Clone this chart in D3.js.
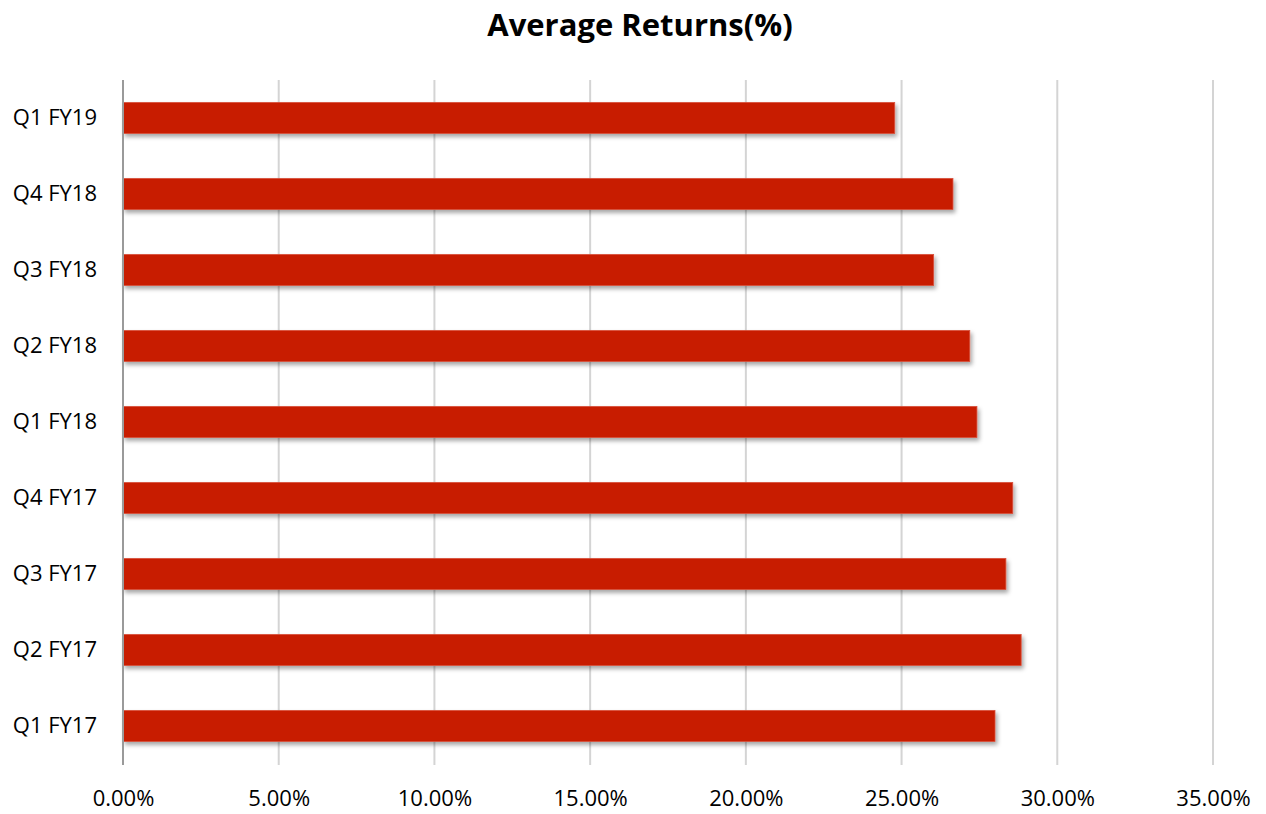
<!DOCTYPE html>
<html>
<head>
<meta charset="utf-8">
<script src="https://cdn.jsdelivr.net/npm/d3@7"></script>
<style>
  html, body { margin: 0; padding: 0; background: #fff; }
  svg { display: block; }
  text { font-family: "Open Sans", "Noto Sans", sans-serif; fill: #000; }
</style>
</head>
<body>
<svg id="chart" width="1266" height="814"></svg>
<script>
// Quarterly average returns, in percent
const categories = ["Q1 FY19", "Q4 FY18", "Q3 FY18", "Q2 FY18", "Q1 FY18", "Q4 FY17", "Q3 FY17", "Q2 FY17", "Q1 FY17"];
const returnsPct = [24.78, 26.65, 26.03, 27.19, 27.42, 28.57, 28.35, 28.84, 28.00];
const xTicks = [0, 5, 10, 15, 20, 25, 30, 35];
const chartTitle = "Average Returns(%)";

const svg = d3.select("#chart");
const W = 1266, H = 814;
const m = { top: 80, right: 53, bottom: 50, left: 123 };

const x = d3.scaleLinear().domain([0, 35]).range([m.left, W - m.right]);
const y = d3.scaleBand().domain(categories).range([m.top, H - m.bottom])
  .paddingInner(0.59).paddingOuter(0.295);

// soft drop shadow under each bar
const defs = svg.append("defs");
const f = defs.append("filter").attr("id", "shadow")
  .attr("x", "-5%").attr("y", "-30%").attr("width", "115%").attr("height", "180%");
f.append("feDropShadow").attr("dx", 2).attr("dy", 3).attr("stdDeviation", 2.2)
  .attr("flood-color", "#000").attr("flood-opacity", 0.35);

// title
svg.append("text")
  .attr("x", 640).attr("y", 36)
  .attr("text-anchor", "middle")
  .attr("font-weight", "bold")
  .attr("font-size", 31)
  .text(chartTitle);

// vertical gridlines
svg.append("g")
  .selectAll("line")
  .data(xTicks.filter(d => d > 0))
  .join("line")
  .attr("x1", d => x(d)).attr("x2", d => x(d))
  .attr("y1", m.top).attr("y2", H - m.bottom + 1)
  .attr("stroke", "#d4d4d4").attr("stroke-width", 2);

// x axis labels
const xAxis = d3.axisBottom(x).tickValues(xTicks)
  .tickFormat(d => d.toFixed(2) + "%").tickSize(0).tickPadding(0);
const gx = svg.append("g").attr("transform", `translate(0, ${H - m.bottom + 22})`).call(xAxis);
gx.select(".domain").remove();
gx.selectAll("text").attr("font-size", 22).attr("font-family", "'Open Sans', sans-serif")
  .attr("fill", "#000").attr("dy", "0.35em").attr("y", 12);

// bars
svg.append("g")
  .selectAll("rect")
  .data(categories)
  .join("rect")
  .attr("x", x(0))
  .attr("y", d => y(d))
  .attr("width", (d, i) => x(returnsPct[i]) - x(0))
  .attr("height", y.bandwidth())
  .attr("fill", "#c81e00")
  .attr("stroke", "#d9503c")
  .attr("stroke-width", 0.8)
  .attr("filter", "url(#shadow)");

// y axis: line plus category labels
const yAxis = d3.axisLeft(y).tickSize(0).tickPadding(26);
const gy = svg.append("g").attr("transform", `translate(${x(0)}, 0)`).call(yAxis);
gy.select(".domain").attr("stroke", "#9a9a9a").attr("stroke-width", 2)
  .attr("d", `M0,${m.top}V${H - m.bottom + 1}`);
gy.selectAll("text").attr("font-size", 22).attr("font-family", "'Open Sans', sans-serif")
  .attr("fill", "#000");
</script>
</body>
</html>
